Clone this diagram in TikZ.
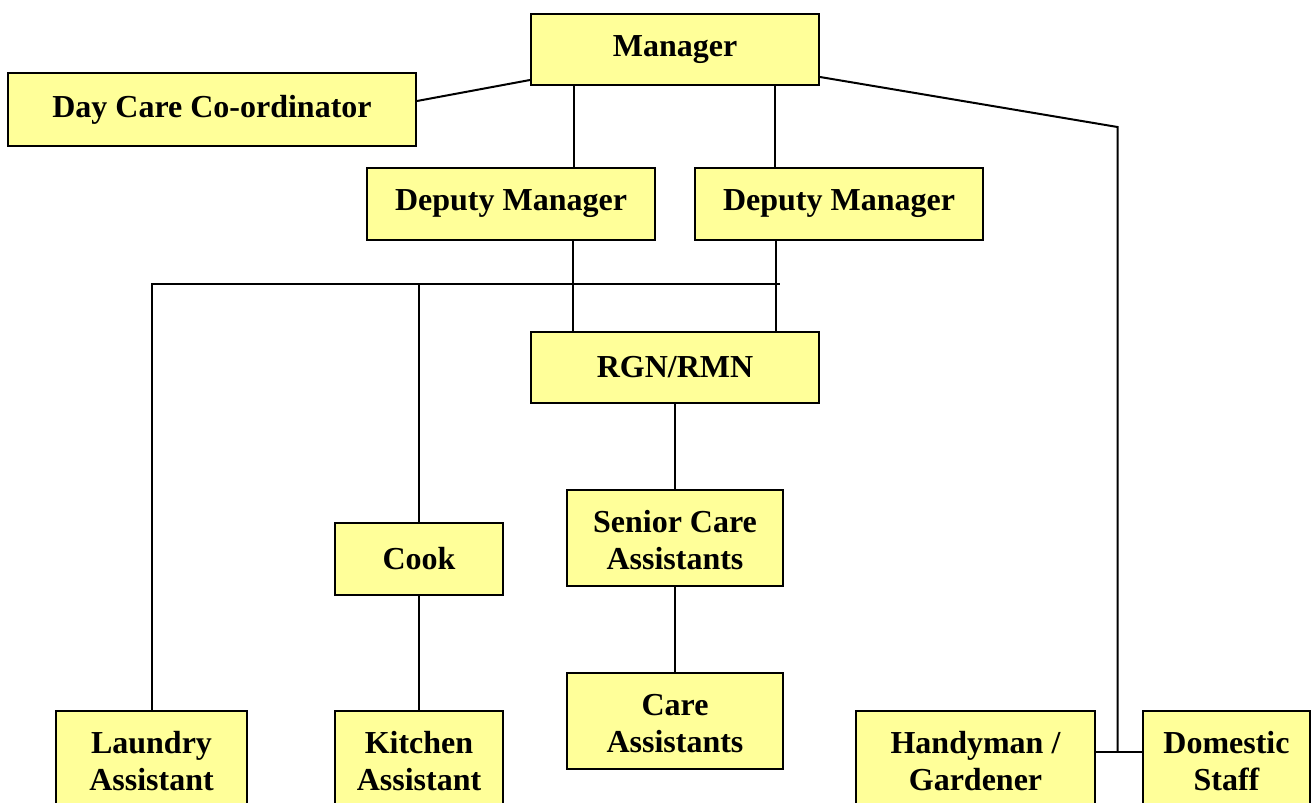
\documentclass[tikz,border=0pt]{standalone}
\usepackage{fontspec}
\setmainfont{Liberation Serif}
\usetikzlibrary{calc}
\definecolor{boxfill}{HTML}{FFFF99}
\begin{document}
\begin{tikzpicture}[x=0.75pt,y=-0.75pt,
  box/.style={draw=black, fill=boxfill, line width=1.5pt, inner sep=0pt, align=center,
    font=\fontsize{24}{28}\selectfont\bfseries},
  sz/.style 2 args={minimum width=#1*0.75pt, minimum height=#2*0.75pt},
  conn/.style={line width=1.5pt, draw=black}]
\useasboundingbox (0,0) rectangle (1315,803);
% nodes
\node[box, sz={288}{71}] (mgr) at (675,49.5) {Manager};
\node[box, sz={408}{73}] (day) at (212,109.5) {Day Care Co-ordinator};
\node[box, sz={288}{72}] (dm1) at (511,204) {Deputy Manager};
\node[box, sz={288}{72}] (dm2) at (839,204) {Deputy Manager};
\node[box, sz={288}{71}] (rgn) at (675,367.5) {RGN/RMN};
\node[box, sz={216}{96}] (sca) at (675,538) {\rule{0pt}{20pt}Senior Care\\Assistants};
\node[box, sz={216}{96}] (ca) at (675,721) {\rule{0pt}{20pt}Care\\Assistants};
\node[box, sz={168}{72}] (cook) at (419,559) {Cook};
\node[box, sz={191}{96}] (laun) at (151.5,759) {\rule{0pt}{20pt}Laundry\\Assistant};
\node[box, sz={168}{96}] (kit) at (419,759) {\rule{0pt}{20pt}Kitchen\\Assistant};
\node[box, sz={239}{96}] (hand) at (975.5,759) {\rule{0pt}{20pt}Handyman /\\Gardener};
\node[box, sz={167}{96}] (dom) at (1226.5,759) {\rule{0pt}{20pt}Domestic\\Staff};
% helper coordinates
\coordinate (busR) at (780,284);
\coordinate (bend) at (1117.5,127);
\coordinate (d1t) at ($(dm1.north)+(63,0)$);
\coordinate (d2t) at ($(dm2.north)+(-64,0)$);
\coordinate (d1b) at ($(dm1.south)+(62,0)$);
\coordinate (d2b) at ($(dm2.south)+(-63,0)$);
\coordinate (hj) at ($(hand.east)+(0,-7)$);
\coordinate (dj) at ($(dom.west)+(0,-7)$);
% connectors
\draw[conn] ($(mgr.west)+(0,30.5)$) -- ($(day.east)+(0,-8.5)$);
\draw[conn] (d1t) -- (d1t |- mgr.south);
\draw[conn] (d2t) -- (d2t |- mgr.south);
\draw[conn] ($(mgr.east)+(0,27.5)$) -- (bend) -- (bend |- hj);
\draw[conn] (hj) -- (dj);
\draw[conn] (d1b) -- (d1b |- rgn.north);
\draw[conn] (d2b) -- (d2b |- rgn.north);
\draw[conn] (laun.north) -- (laun.north |- busR) -- (busR);
\draw[conn] (cook.north) -- (cook.north |- busR);
\draw[conn] (cook.south) -- (kit.north);
\draw[conn] (rgn.south) -- (sca.north);
\draw[conn] (sca.south) -- (ca.north);
\end{tikzpicture}
\end{document}
